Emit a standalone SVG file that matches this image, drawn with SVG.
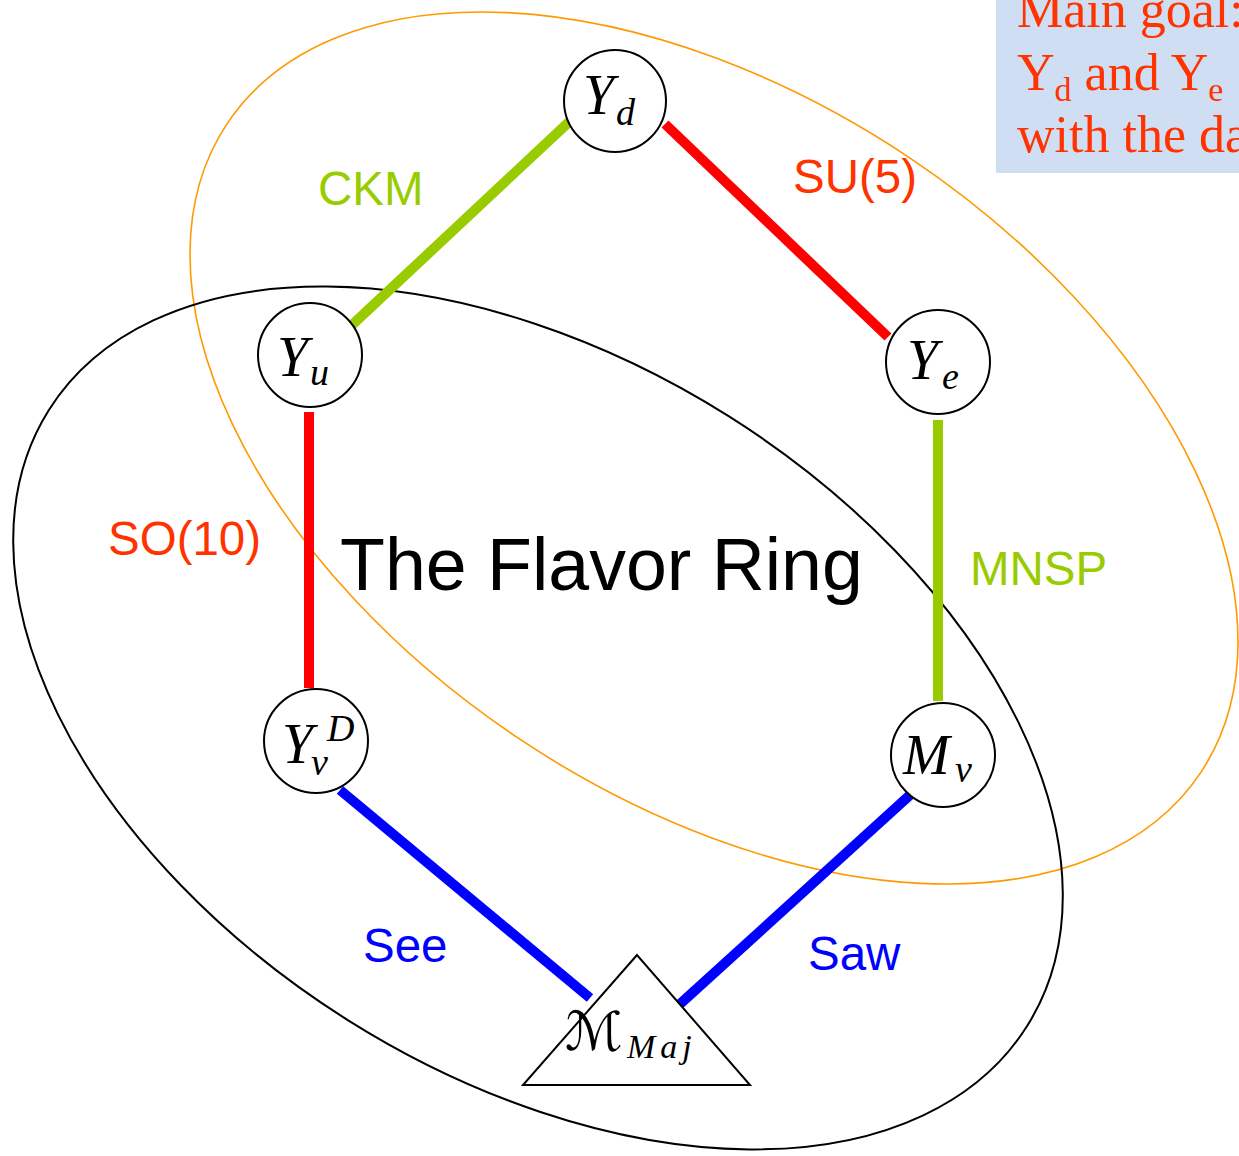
<svg xmlns="http://www.w3.org/2000/svg" width="1239" height="1156" viewBox="0 0 1239 1156">
<style>
.node{fill:#fff;stroke:#000;stroke-width:2}
.m{font-family:"Liberation Serif","DejaVu Serif",serif;font-style:italic;fill:#000}
.big{font-size:56px}
.sub{font-size:38px}
.lbl{font-family:"Liberation Sans",Arial,sans-serif;font-size:47.5px}
.goal{font-family:"Liberation Serif","Times New Roman",serif;font-size:52px;fill:#ff3300}
.conn{stroke-width:10;fill:none}
</style>
<rect x="996" y="0" width="250" height="173" fill="#cfdef2"/>
<g id="goal">
<text class="goal" x="1017" y="27">Main goal:</text>
<text class="goal" x="1017" y="90">Y<tspan font-size="34" dy="11">d</tspan><tspan dy="-11"> and Y</tspan><tspan font-size="34" dy="11">e</tspan></text>
<text class="goal" x="1017" y="152">with the da</text>
</g>
<ellipse id="orange-set" cx="714" cy="448" rx="585" ry="350" transform="rotate(33.7 714 448)" fill="none" stroke="#ff9900" stroke-width="1.6"/>
<ellipse id="black-set" cx="538" cy="718" rx="578" ry="357" transform="rotate(32.2 538 718)" fill="none" stroke="#000" stroke-width="2"/>
<g id="connectors">
<line class="conn" x1="570" y1="121" x2="352" y2="325" stroke="#99cc00"/>
<line class="conn" x1="665" y1="124" x2="888" y2="337" stroke="#ff0000"/>
<line class="conn" x1="309" y1="412" x2="309" y2="688" stroke="#ff0000"/>
<line class="conn" x1="938" y1="420" x2="938" y2="701" stroke="#99cc00"/>
<line class="conn" x1="340" y1="790" x2="590" y2="998" stroke="#0000ff"/>
<line class="conn" x1="910" y1="795" x2="680" y2="1004" stroke="#0000ff"/>
<text class="lbl" x="318" y="205" fill="#99cc00">CKM</text>
<text class="lbl" x="793" y="193" fill="#ff3300">SU(5)</text>
<text class="lbl" x="108" y="555" fill="#ff3300">SO(10)</text>
<text class="lbl" x="970" y="585" fill="#99cc00">MNSP</text>
<text class="lbl" x="363" y="962" fill="#0000ff">See</text>
<text class="lbl" x="808" y="970" fill="#0000ff">Saw</text>
</g>
<text id="title" x="340" y="590" font-family="Liberation Sans,Arial,sans-serif" font-size="73.5" fill="#000">The Flavor Ring</text>
<g id="Yd">
<circle class="node" cx="615" cy="101" r="51"/>
<text class="m big" x="583" y="114">Y</text>
<text class="m sub" x="616" y="125">d</text>
</g>
<g id="Yu">
<circle class="node" cx="310" cy="355" r="52"/>
<text class="m big" x="277" y="376">Y</text>
<text class="m sub" x="310" y="385">u</text>
</g>
<g id="Ye">
<circle class="node" cx="938" cy="362" r="52"/>
<text class="m big" x="907" y="379">Y</text>
<text class="m sub" x="942" y="389">e</text>
</g>
<g id="Ynu">
<circle class="node" cx="316" cy="741" r="52"/>
<text class="m big" x="282" y="763">Y</text>
<text class="m sub" x="311" y="775">ν</text>
<text class="m sub" x="327" y="741">D</text>
</g>
<g id="Mnu">
<circle class="node" cx="943" cy="755" r="52"/>
<text class="m big" x="903" y="774">M</text>
<text class="m sub" x="955" y="782">ν</text>
</g>
<g id="MMaj">
<polygon points="637,955 523,1085 750,1085" fill="#fff" stroke="#000" stroke-width="2"/>
<text x="565" y="1050" font-family="DejaVu Serif,DejaVu Sans,serif" font-style="italic" font-size="54" fill="#000">ℳ</text>
<text class="m" x="627" y="1058" font-size="34" letter-spacing="5">Maj</text>
</g>
</svg>
